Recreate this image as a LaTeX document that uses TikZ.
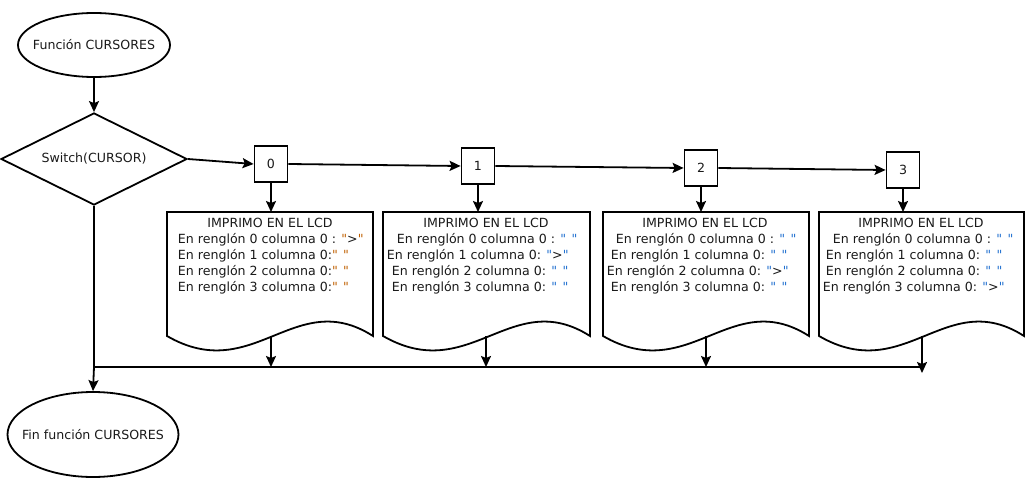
\documentclass[tikz,border=0pt]{standalone}
\usepackage{fontspec}
\setmainfont{DejaVu Sans}
\usetikzlibrary{shapes.geometric,arrows.meta}
\definecolor{txt}{HTML}{1A1A1A}
\definecolor{qor}{HTML}{C06000}
\definecolor{qbl}{HTML}{2070D0}
\newcommand\dq{\XeTeXglyph\XeTeXcharglyph"22\relax}
\newcommand\qo[1]{\textcolor{qor}{\dq}#1\textcolor{qor}{\dq}}
\newcommand\qb[1]{\textcolor{qbl}{\dq}#1\textcolor{qbl}{\dq}}
\newcommand\lcddoc[2]{%
  \draw[fill=white] (#1,212) -- (#2,212) -- (#2,336)
    .. controls ({#1+0.62*(#2-#1)},286) and ({#1+0.42*(#2-#1)},386) .. (#1,336) -- cycle;}
\begin{document}
\begin{tikzpicture}[x=1pt,y=-1pt,line width=1.8pt,
  every node/.style={font=\fontsize{12.6}{15}\selectfont,text=txt,inner sep=0pt},
  arr/.style={-{Stealth[length=11pt,width=10pt,inset=2pt]}},
  term/.style={ellipse,draw,fill=white},
  dia/.style={diamond,draw,fill=white,minimum width=186pt,minimum height=92pt},
  case/.style={rectangle,draw,fill=white,minimum width=33pt,minimum height=36pt},
  ttl/.style={anchor=base},
  ln/.style={anchor=base west}]
\useasboundingbox (0,0) rectangle (1027,481);
\fill[white] (0,0) rectangle (1027,481);

% terminals and decision
\node[term,minimum width=152pt,minimum height=64pt] (start) at (94,45) {\makebox[0pt]{Función CURSORES}};
\node[dia] (sw) at (94,159) {\makebox[0pt]{Switch(CURSOR)}};
\node[term,minimum width=171pt,minimum height=85pt] (fin) at (93,434.5) {\makebox[0pt]{Fin función CURSORES}};

% case boxes
\node[case] (b0) at (271,164) {0};
\node[case] (b1) at (478,166) {1};
\node[case] (b2) at (701,168) {2};
\node[case] (b3) at (903,170) {3};

% documents
\lcddoc{167}{373}
\lcddoc{383}{590}
\lcddoc{603}{809}
\lcddoc{819}{1024}

\coordinate (d0t) at (271,212); \coordinate (d0b) at (271,336); \coordinate (j0) at (271,367);
\coordinate (d1t) at (478,212); \coordinate (d1b) at (486,336); \coordinate (j1) at (486,367);
\coordinate (d2t) at (701,212); \coordinate (d2b) at (706,336); \coordinate (j2) at (706,367);
\coordinate (d3t) at (903,212); \coordinate (d3b) at (922,336); \coordinate (j3) at (922,367);
\coordinate (jl) at (94,367);

% doc 0
\node[ttl] (t0) at (270,227.5) {IMPRIMO EN EL LCD};
\node[ln] (l00) at (177,243.5) {En renglón 0 columna 0 : \qo{>}};
\node[ln] (l01) at (177,259.5) {En renglón 1 columna 0:\qo{ }};
\node[ln] (l02) at (177,275.5) {En renglón 2 columna 0:\qo{ }};
\node[ln] (l03) at (177,291.5) {En renglón 3 columna 0:\qo{ }};
% doc 1
\node[ttl] (t1) at (486,227.5) {IMPRIMO EN EL LCD};
\node[ln] (l10) at (396,243.5) {En renglón 0 columna 0 : \qb{ }};
\node[ln] (l11) at (386,259.5) {En renglón 1 columna 0: \qb{>}};
\node[ln] (l12) at (391,275.5) {En renglón 2 columna 0: \qb{ }};
\node[ln] (l13) at (391,291.5) {En renglón 3 columna 0: \qb{ }};
% doc 2
\node[ttl] (t2) at (705,227.5) {IMPRIMO EN EL LCD};
\node[ln] (l20) at (615,243.5) {En renglón 0 columna 0 : \qb{ }};
\node[ln] (l21) at (610,259.5) {En renglón 1 columna 0: \qb{ }};
\node[ln] (l22) at (606,275.5) {En renglón 2 columna 0: \qb{>}};
\node[ln] (l23) at (610,291.5) {En renglón 3 columna 0: \qb{ }};
% doc 3
\node[ttl] (t3) at (921,227.5) {IMPRIMO EN EL LCD};
\node[ln] (l30) at (832,243.5) {En renglón 0 columna 0 : \qb{ }};
\node[ln] (l31) at (825,259.5) {En renglón 1 columna 0: \qb{ }};
\node[ln] (l32) at (825,275.5) {En renglón 2 columna 0: \qb{ }};
\node[ln] (l33) at (822,291.5) {En renglón 3 columna 0: \qb{>}};

% connectors
\draw[arr] (start) -- (sw);
\draw[arr] (sw.east) -- (b0.west);
\draw[arr] (b0.east) -- (b1.west);
\draw[arr] (b1.east) -- (b2.west);
\draw[arr] (b2.east) -- (b3.west);
\draw[arr] (b0.south) -- (d0t);
\draw[arr] (b1.south) -- (d1t);
\draw[arr] (b2.south) -- (d2t);
\draw[arr] (b3.south) -- (d3t);
\draw[arr] (d0b) -- (j0);
\draw[arr] (d1b) -- (j1);
\draw[arr] (d2b) -- (j2);
\draw (d3b) -- (j3) -- (jl);
\draw[arr] (d3b) -- ([yshift=-6pt]j3);
\draw (sw.south) -- (jl);
\draw[arr] (jl) -- (fin.north);
\end{tikzpicture}
\end{document}
